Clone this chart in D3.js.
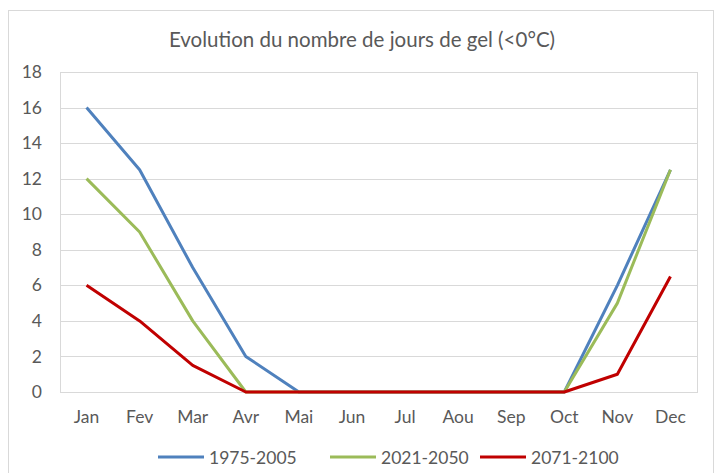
<!DOCTYPE html>
<html>
<head>
<meta charset="utf-8">
<script src="https://cdn.jsdelivr.net/npm/d3@7"></script>
<style>
  body { margin: 0; background: #fff; }
  text { font-family: Lato, "Open Sans", sans-serif; fill: #595959; }
</style>
</head>
<body>
<div id="chart-area"></div>
<script>
const months = ["Jan", "Fev", "Mar", "Avr", "Mai", "Jun", "Jul", "Aou", "Sep", "Oct", "Nov", "Dec"];
const serie1975 = [16, 12.5, 7, 2, 0, 0, 0, 0, 0, 0, 6, 12.5];
const serie2021 = [12, 9, 4, 0, 0, 0, 0, 0, 0, 0, 5, 12.5];
const serie2071 = [6, 4, 1.5, 0, 0, 0, 0, 0, 0, 0, 1, 6.5];
const seriesNames = ["1975-2005", "2021-2050", "2071-2100"];
const yTicks = [0, 2, 4, 6, 8, 10, 12, 14, 16, 18];

const series = [
    { name: seriesNames[0], values: serie1975, color: "#4f81bd" },
    { name: seriesNames[1], values: serie2021, color: "#9bbb59" },
    { name: seriesNames[2], values: serie2071, color: "#c00000" }
];

const width = 720, height = 473;
const plot = { left: 60, right: 697, top: 72, bottom: 392 };

const svg = d3.select("#chart-area")
    .append("svg")
    .attr("width", width)
    .attr("height", height);

// cadre extérieur
svg.append("rect")
    .attr("x", 8.5).attr("y", 10.5)
    .attr("width", 705).attr("height", 470)
    .attr("fill", "none")
    .attr("stroke", "#d9d9d9");

svg.append("text")
    .attr("x", 362)
    .attr("y", 47)
    .attr("text-anchor", "middle")
    .attr("font-size", "20.5px")
    .text("Evolution du nombre de jours de gel (<0°C)");

const x = d3.scaleBand()
    .domain(months)
    .range([plot.left, plot.right]);

const y = d3.scaleLinear()
    .domain([0, 18])
    .range([plot.bottom, plot.top]);

// grille
svg.append("g")
    .selectAll("line")
    .data(yTicks)
    .enter()
    .append("line")
    .attr("x1", plot.left).attr("x2", plot.right)
    .attr("y1", d => Math.round(y(d)) + 0.5)
    .attr("y2", d => Math.round(y(d)) + 0.5)
    .attr("stroke", "#d9d9d9");

svg.append("rect")
    .attr("x", plot.left + 0.5).attr("y", plot.top + 0.5)
    .attr("width", plot.right - plot.left).attr("height", plot.bottom - plot.top)
    .attr("fill", "none")
    .attr("stroke", "#d9d9d9");

// axes
const leftAxis = d3.axisLeft(y).tickValues(yTicks).tickSize(0).tickPadding(18);
svg.append("g")
    .attr("transform", `translate(${plot.left}, 0)`)
    .call(leftAxis)
    .call(g => g.select(".domain").remove())
    .selectAll("text")
    .attr("font-size", "17.5px")
    .attr("font-family", "Lato, sans-serif")
    .attr("fill", "#595959");

const bottomAxis = d3.axisBottom(x).tickSize(0).tickPadding(19);
svg.append("g")
    .attr("transform", `translate(0, ${plot.bottom})`)
    .call(bottomAxis)
    .call(g => g.select(".domain").remove())
    .selectAll("text")
    .attr("font-size", "17.5px")
    .attr("font-family", "Lato, sans-serif")
    .attr("fill", "#595959");

// lignes
const line = d3.line()
    .x((d, i) => x(months[i]) + x.bandwidth() / 2)
    .y(d => y(d));

svg.selectAll(".serie")
    .data(series)
    .enter()
    .append("path")
    .attr("class", "serie")
    .attr("d", d => line(d.values))
    .attr("fill", "none")
    .attr("stroke", d => d.color)
    .attr("stroke-width", 3)
    .attr("stroke-linejoin", "round");

// légende
const legendX = [158, 330, 480];
const legend = svg.selectAll(".legend")
    .data(series)
    .enter()
    .append("g")
    .attr("class", "legend")
    .attr("transform", (d, i) => `translate(${legendX[i]}, 457)`);

legend.append("line")
    .attr("x1", 0).attr("x2", 46)
    .attr("stroke", d => d.color)
    .attr("stroke-width", 3);

legend.append("text")
    .attr("x", 51)
    .attr("y", 6.5)
    .attr("font-size", "17.5px")
    .text(d => d.name);
</script>
</body>
</html>
